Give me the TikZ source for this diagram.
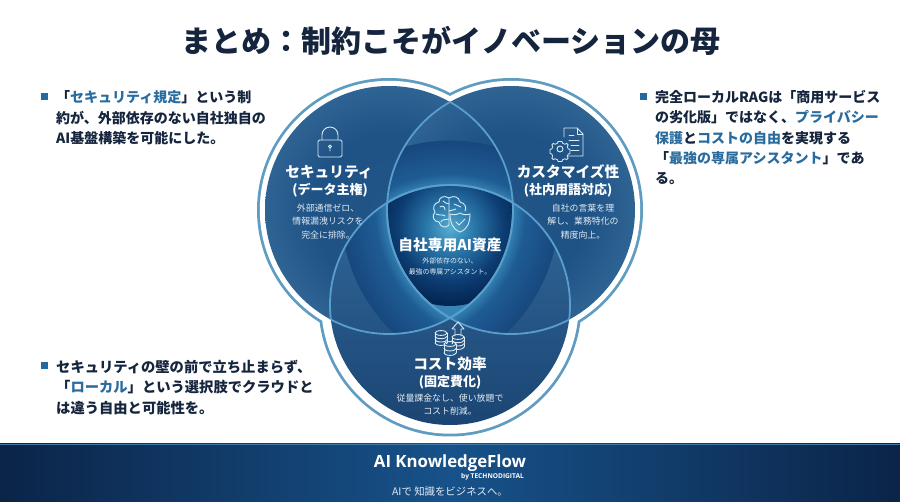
\documentclass[tikz,border=0pt]{standalone}
\usepackage{fontspec}
\setmainfont{Noto Sans CJK JP}
\newfontfamily\latinfont{Open Sans}
\definecolor{ringblue}{HTML}{5F9CC2}
\definecolor{edgeblue}{HTML}{5A9FCB}
\definecolor{accent}{HTML}{2A6C9E}
\definecolor{bulletblue}{HTML}{2468A0}
\definecolor{inkdark}{HTML}{15253D}
\definecolor{iconwhite}{HTML}{DCEAF4}
\definecolor{smallwhite}{HTML}{E2ECF4}
\definecolor{coinbg}{HTML}{265C8E}
\definecolor{footedge}{HTML}{0B2448}
\definecolor{footmid}{HTML}{17528A}
\definecolor{footline}{HTML}{3F78A6}
\definecolor{bottomtop}{HTML}{336B9C}
\definecolor{bottomlow}{HTML}{1B4573}
% a path's bounding box maps to the central 50bp of a shading: circle edge = 25bp
\pgfdeclareradialshading{leftfill}{\pgfpoint{0bp}{0bp}}{rgb(0bp)=(.13,.33,.53); rgb(15bp)=(.12,.32,.52); rgb(25bp)=(.18,.39,.58); rgb(50bp)=(.18,.39,.58)}
\pgfdeclareradialshading{rimglow}{\pgfpoint{0bp}{0bp}}{rgb(0bp)=(.21,.52,.71); rgb(18bp)=(.21,.52,.71); rgb(20bp)=(.12,.36,.58); rgb(25bp)=(.09,.28,.49); rgb(50bp)=(.09,.28,.49)}
\pgfdeclareradialshading{corefill}{\pgfpoint{0bp}{0bp}}{rgb(0bp)=(.34,.68,.82); rgb(8bp)=(.16,.46,.66); rgb(17bp)=(.05,.24,.45); rgb(25bp)=(.01,.14,.31); rgb(50bp)=(.01,.14,.31)}
\newcommand{\LeftC}{(389pt,-210pt) circle (124pt)}
\newcommand{\RightC}{(511pt,-210pt) circle (124pt)}
\newcommand{\BottomC}{(450pt,-305pt) circle (120pt)}
\tikzset{
  title text/.style={inner sep=0pt,text=inkdark,font=\fontsize{30}{36}\selectfont\bfseries},
  body text/.style={inner sep=0pt,anchor=west,align=left,text=inkdark,font=\fontsize{14}{20.4}\selectfont\bfseries},
  big label/.style={inner sep=0pt,text=white,font=\fontsize{14.7}{18}\selectfont\bfseries},
  sub label/.style={inner sep=0pt,text=white,font=\fontsize{13}{15}\selectfont\bfseries},
  small label/.style={inner sep=0pt,align=center,text=smallwhite,font=\fontsize{8.9}{13.4}\selectfont},
  tiny label/.style={inner sep=0pt,align=center,text=smallwhite,font=\fontsize{6.9}{11}\selectfont},
  bullet/.style={fill=bulletblue,draw=none,minimum size=7pt,inner sep=0pt},
  icon/.style={draw=iconwhite,line width=.9pt,line join=round,line cap=round},
  inner edge/.style={draw=edgeblue,line width=1.8pt},
}
\newcommand{\hl}[1]{\textcolor{accent}{#1}}
\begin{document}
\begin{tikzpicture}[x=1pt,y=-1pt]
\useasboundingbox (0,0) rectangle (900,502);
\fill[white] (0,0) rectangle (900,502);
% outer ring
\fill[ringblue] (389pt,-210pt) circle (132pt) (511pt,-210pt) circle (132pt);
\fill[ringblue] (450pt,-305pt) circle (131.5pt);
\fill[white] (389pt,-210pt) circle (129.2pt) (511pt,-210pt) circle (129.2pt);
\fill[white] (450pt,-305pt) circle (128.7pt);
% circle fills
\shade[shading=leftfill] \LeftC;
\shade[shading=leftfill] \RightC;
\shade[top color=bottomtop,bottom color=bottomlow] \BottomC;
% pair overlaps: the glow follows the edge of the third circle
\begin{scope}
\clip \LeftC; \clip \RightC;
\shade[shading=rimglow] (450pt,-305pt) circle (164.4pt);
\end{scope}
\begin{scope}
\clip \LeftC; \clip \BottomC;
\shade[shading=rimglow] (511pt,-210pt) circle (170pt);
\end{scope}
\begin{scope}
\clip \RightC; \clip \BottomC;
\shade[shading=rimglow] (389pt,-210pt) circle (170pt);
\end{scope}
% core
\begin{scope}
\clip \LeftC; \clip \RightC; \clip \BottomC;
\shade[shading=corefill] (450pt,-228pt) circle (78pt);
\end{scope}
% inner edges
\begin{scope}\clip \LeftC; \draw[inner edge] \RightC; \end{scope}
\begin{scope}\clip \RightC; \draw[inner edge] \LeftC; \end{scope}
\begin{scope}\clip \BottomC; \draw[inner edge] \LeftC; \draw[inner edge] \RightC; \end{scope}
\begin{scope}\clip \LeftC; \draw[inner edge] \BottomC; \end{scope}
\begin{scope}\clip \RightC; \draw[inner edge] \BottomC; \end{scope}
% title
\node[title text] (title) at (451,41) {まとめ：制約こそがイノベーションの母};
% bullets
\node[bullet] (b1) at (44,97) {};
\node[bullet] (b2) at (643,97) {};
\node[bullet] (b3) at (44,366) {};
\node[body text] (t1) at (56,118) {「\hl{セキュリティ規定}」という制\\約が、外部依存のない自社独自の\\AI基盤構築を可能にした。};
\node[body text] (t2) at (655,137.5) {完全ローカルRAGは「商用サービス\\の劣化版」ではなく、\hl{プライバシー}\\\hl{保護}と\hl{コストの自由}を実現する\\「\hl{最強の専属アシスタント}」であ\\る。};
\node[body text,font=\fontsize{14.3}{20.6}\selectfont\bfseries] (t3) at (56,387.5) {セキュリティの壁の前で立ち止まらず、\\「\hl{ローカル}」という選択肢でクラウドと\\は違う自由と可能性を。};
% venn labels
\node[big label] (sec) at (329,172) {セキュリティ};
\node[sub label] (secs) at (330,190.5) {(データ主権)};
\node[small label] (secd) at (328,221.5) {外部通信ゼロ、\\情報漏洩リスクを\\完全に排除。};
\node[big label] (cus) at (568,172) {カスタマイズ性};
\node[sub label] (cuss) at (568,190.5) {(社内用語対応)};
\node[small label] (cusd) at (583,221.5) {自社の言葉を理\\解し、業務特化の\\精度向上。};
\node[big label] (core) at (450,245) {自社専用AI資産};
\node[tiny label] (cored) at (450,266.5) {外部依存のない、\\最強の専属アシスタント。};
\node[big label] (cost) at (450,364) {コスト効率};
\node[sub label] (costs) at (450,382) {(固定費化)};
\node[small label] (costd) at (450,404.5) {従量課金なし、使い放題で\\コスト削減。};
% lock icon
\draw[icon,rounded corners=1.5pt] (318,140) rectangle (342,157);
\draw[icon] (322,140) -- (322,135) arc[start angle=180,end angle=0,radius=8pt] -- (338,140);
\draw[icon] (330,146.5) circle (1.6pt) (330,148) -- (330,151);
% document + gear icon
\draw[icon] (564,137) -- (564,128) -- (577,128) -- (583,134) -- (583,156) -- (567,156);
\draw[icon] (577,128) -- (577,134) -- (583,134);
\draw[icon] (569,135) -- (574,135) (569,140) -- (579,140) (571,145) -- (579,145) (571,150) -- (579,150);
\draw[icon] (560,149) circle (3pt);
\draw[icon,line width=.8pt] (560,149) ++(-2pt,7.5pt) -- ++(4pt,0) -- ++(.6pt,-1.8pt) -- ++(2.4pt,-1pt) -- ++(1.6pt,1pt) -- ++(1.6pt,-1.6pt) -- ++(-1pt,-1.6pt) -- ++(1pt,-2.4pt) -- ++(1.8pt,-.6pt) -- ++(0,-4pt) -- ++(-1.8pt,-.6pt) -- ++(-1pt,-2.4pt) -- ++(1pt,-1.6pt) -- ++(-1.6pt,-1.6pt) -- ++(-1.6pt,1pt) -- ++(-2.4pt,-1pt) -- ++(-.6pt,-1.8pt) -- ++(-4pt,0) -- ++(-.6pt,1.8pt) -- ++(-2.4pt,1pt) -- ++(-1.6pt,-1pt) -- ++(-1.6pt,1.6pt) -- ++(1pt,1.6pt) -- ++(-1pt,2.4pt) -- ++(-1.8pt,.6pt) -- ++(0,4pt) -- ++(1.8pt,.6pt) -- ++(1pt,2.4pt) -- ++(-1pt,1.6pt) -- ++(1.6pt,1.6pt) -- ++(1.6pt,-1pt) -- ++(2.4pt,1pt) -- ++(.6pt,1.8pt) -- cycle;
% brain + shield icon
\draw[icon] (449,198) .. controls (444,195) and (439,197) .. (439,202) .. controls (434,203) and (432,208) .. (435,212) .. controls (431,216) and (434,222) .. (439,222) .. controls (440,227) and (446,229) .. (449,225) -- cycle;
\draw[icon] (449,198) .. controls (454,195) and (459,197) .. (460,202) .. controls (465,203) and (467,208) .. (465,211);
\draw[icon] (440,207) .. controls (443,205) and (445,207) .. (445,210) (436,214) .. controls (440,216) and (443,214) .. (445,216) (443,201) .. controls (444,203) and (447,203) .. (449,204) (441,222) .. controls (442,219) and (445,220) .. (449,219);
\draw[icon] (454,204) .. controls (456,206) and (459,205) .. (461,207) (449,211) .. controls (452,209) and (454,211) .. (456,209);
\draw[icon] (460,213) .. controls (463,215) and (467,215) .. (470,214) .. controls (470,222) and (468,229) .. (460,232) .. controls (452,229) and (450,222) .. (450,214) .. controls (453,215) and (457,215) .. (460,213) -- cycle;
\draw[icon] (456,222) -- (459,225) -- (465,219);
% coins + arrow icon
\draw[icon] (458,322) -- (452,329) -- (455,329) -- (455,336) (458,322) -- (464,329) -- (461,329) -- (461,336);
\foreach \cx/\cy in {441/333, 458/337}{
  \draw[icon] (\cx,\cy) ellipse (6pt and 2.4pt);
  \draw[icon] (\cx-6,\cy) -- (\cx-6,\cy+10) (\cx+6,\cy) -- (\cx+6,\cy+10);
  \draw[icon] (\cx-6,\cy+3.3) arc[start angle=180,end angle=360,x radius=6pt,y radius=2.4pt];
  \draw[icon] (\cx-6,\cy+6.6) arc[start angle=180,end angle=360,x radius=6pt,y radius=2.4pt];
  \draw[icon] (\cx-6,\cy+10) arc[start angle=180,end angle=360,x radius=6pt,y radius=2.4pt];
}
\fill[coinbg] (444,344) rectangle (456,355.5);
\draw[icon] (450,344) ellipse (6pt and 2.4pt);
\draw[icon] (444,344) -- (444,353) (456,344) -- (456,353);
\draw[icon] (444,348.5) arc[start angle=180,end angle=360,x radius=6pt,y radius=2.4pt];
\draw[icon] (444,353) arc[start angle=180,end angle=360,x radius=6pt,y radius=2.4pt];
% footer
\shade[left color=footedge,right color=footedge,middle color=footmid] (0,444) rectangle (900,502);
\draw[footline,line width=.8pt] (0,444.4) -- (900,444.4);
\node[inner sep=0pt,text=white,font=\latinfont\fontsize{16.8}{20}\selectfont\bfseries] (brand) at (450,463) {AI KnowledgeFlow};
\node[inner sep=0pt,anchor=east,text=white,font=\latinfont\fontsize{6.6}{8}\selectfont\bfseries] (by) at (524,477) {by TECHNODIGITAL};
\node[inner sep=0pt,text=smallwhite,font=\fontsize{10.4}{12}\selectfont] (tag) at (450,492) {AIで 知識をビジネスへ。};
\end{tikzpicture}
\end{document}
